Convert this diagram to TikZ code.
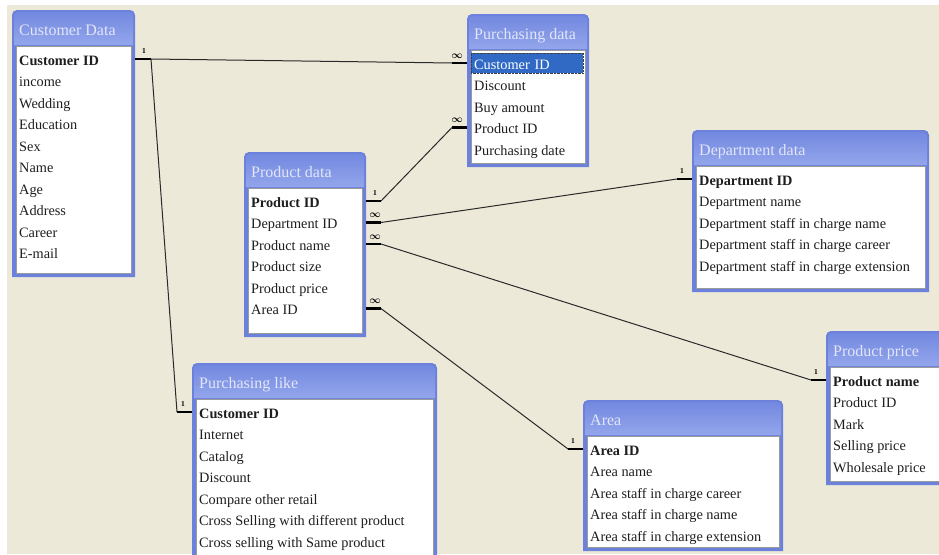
\documentclass[tikz,border=0pt]{standalone}
\usepackage{fontspec}
\setmainfont{Liberation Serif}
\usetikzlibrary{calc}

\definecolor{paper}{HTML}{ECE9D8}
\definecolor{frameblue}{HTML}{6C81DC}
\definecolor{headtop}{HTML}{7389E0}
\definecolor{headbot}{HTML}{93A5EB}
\definecolor{titlecol}{HTML}{E2E6F8}
\definecolor{fieldcol}{HTML}{1E1E1E}
\definecolor{listedge}{HTML}{9A9A9A}
\definecolor{selblue}{HTML}{316AC5}
\definecolor{linecol}{HTML}{2A2A2A}

\tikzset{
  ttl/.style={anchor=west, text=titlecol, inner sep=0pt,
    text height=12pt, text depth=2pt,
    font=\fontsize{16}{17}\selectfont},
  fld/.style={anchor=west, text=fieldcol, inner sep=0pt,
    text height=13pt, text depth=1pt,
    font=\fontsize{14.3}{15}\selectfont},
  keyfld/.style={fld, font=\fontsize{14.3}{15}\selectfont\bfseries},
  selfld/.style={fld, fill=selblue, text=white, draw=black!75, densely dotted,
    inner xsep=3pt, inner ysep=3pt, xshift=-3pt, text width=106pt},
  listbox/.style={fill=white, draw=listedge, line width=0.7pt},
  stub/.style={line width=2.8pt, draw=black},
  rel/.style={line width=1pt, draw=linecol},
  card/.style={inner sep=0pt, text=black,
    font=\fontsize{7.5}{8}\selectfont\bfseries},
  many/.style={inner sep=0pt, text=black,
    font=\fontsize{10}{10}\selectfont\boldmath},
}

% table: id, x0, y0, x1, y1, title, first-row style, first row, other rows
\newcommand\ertable[9]{%
  \fill[frameblue] (#2,#5) [rounded corners=5pt] -- (#2,#3) -- (#4,#3)
    [sharp corners] -- (#4,#5) -- cycle;
  \shade[top color=headtop, bottom color=headbot]
    (#2+2,#3+35) [rounded corners=4pt] -- (#2+2,#3+2) -- (#4-2,#3+2)
    [sharp corners] -- (#4-2,#3+35) -- cycle;
  \coordinate (#1-nw) at (#2,#3);
  \coordinate (#1-ne) at (#4,#3);
  \path[listbox] (#2+4.5,#3+36.5) rectangle (#4-4,#5-4);
  \node[ttl] (#1-t) at (#2+7,#3+20.5) {#6};
  \node[#7] (#1-1) at (#2+7,#3+49) {#8};
  \foreach \f [count=\i from 2] in {#9}
    \node[fld] (#1-\i) at (#2+7,#3+49+21.5*\i-21.5) {\f};
}

\begin{document}
\begin{tikzpicture}[x=1pt,y=-1pt]
  \useasboundingbox (0,0) rectangle (939,554);
  \clip (0,0) rectangle (939,554);
  \fill[white] (0,0) rectangle (939,554);
  \fill[paper] (7,5) rectangle (939,554);

  \ertable{cd}{12}{10}{135}{277}{Customer Data}{keyfld}{Customer ID}
    {income,Wedding,Education,Sex,Name,Age,Address,Career,E-mail}
  \ertable{pd}{467}{14}{589}{167}{Purchasing data}{selfld}{Customer ID}
    {Discount,Buy amount,Product ID,Purchasing date}
  \ertable{prod}{244}{152}{366}{337}{Product data}{keyfld}{Product ID}
    {Department ID,Product name,Product size,Product price,Area ID}
  \ertable{dept}{692}{130}{929}{292}{Department data}{keyfld}{Department ID}
    {Department name,Department staff in charge name,
     Department staff in charge career,Department staff in charge extension}
  \ertable{pl}{192}{363}{437}{575}{Purchasing like}{keyfld}{Customer ID}
    {Internet,Catalog,Discount,Compare other retail,
     Cross Selling with different product,Cross selling with Same product}
  \ertable{area}{583}{400}{783}{551}{Area}{keyfld}{Area ID}
    {Area name,Area staff in charge career,Area staff in charge name,
     Area staff in charge extension}
  \ertable{pp}{826}{331}{960}{485}{Product price}{keyfld}{Product name}
    {Product ID,Mark,Selling price,Wholesale price}

  % relationship stubs: right-hand side of a table
  \draw[stub] (cd-1 -| cd-ne) -- ++(16,0) coordinate (cdR);
  \draw[stub] (prod-1 -| prod-ne) -- ++(15,0) coordinate (prodR1);
  \draw[stub] (prod-2 -| prod-ne) -- ++(15,0) coordinate (prodR2);
  \draw[stub] (prod-3 -| prod-ne) -- ++(15,0) coordinate (prodR3);
  \draw[stub] (prod-6 -| prod-ne) -- ++(15,0) coordinate (prodR6);
  % relationship stubs: left-hand side of a table
  \draw[stub] (pd-1 -| pd-nw) -- ++(-15,0) coordinate (pdL1);
  \draw[stub] (pd-4 -| pd-nw) -- ++(-15,0) coordinate (pdL4);
  \draw[stub] (dept-1 -| dept-nw) -- ++(-15,0) coordinate (deptL);
  \draw[stub] (pl-1 -| pl-nw) -- ++(-15,0) coordinate (plL);
  \draw[stub] (area-1 -| area-nw) -- ++(-15,0) coordinate (areaL);
  \draw[stub] (pp-1 -| pp-nw) -- ++(-15,0) coordinate (ppL);

  % cardinality marks
  \node[card] at ($(cd-1 -| cd-ne)+(9,-8)$) {1};
  \node[many] at ($(pd-1 -| pd-nw)+(-10,-7)$) {$\infty$};
  \node[many] at ($(pd-4 -| pd-nw)+(-10,-7)$) {$\infty$};
  \node[card] at ($(prod-1 -| prod-ne)+(9,-8)$) {1};
  \node[many] at ($(prod-2 -| prod-ne)+(9,-7)$) {$\infty$};
  \node[many] at ($(prod-3 -| prod-ne)+(9,-7)$) {$\infty$};
  \node[many] at ($(prod-6 -| prod-ne)+(9,-7)$) {$\infty$};
  \node[card] at ($(dept-1 -| dept-nw)+(-10,-8)$) {1};
  \node[card] at ($(pl-1 -| pl-nw)+(-9,-8)$) {1};
  \node[card] at ($(area-1 -| area-nw)+(-10,-8)$) {1};
  \node[card] at ($(pp-1 -| pp-nw)+(-10,-8)$) {1};

  % relationship lines
  \draw[rel] (cdR) -- (pdL1);
  \draw[rel] (cdR) -- (plL);
  \draw[rel] (prodR1) -- (pdL4);
  \draw[rel] (prodR2) -- (deptL);
  \draw[rel] (prodR3) -- (ppL);
  \draw[rel] (prodR6) -- (areaL);
\end{tikzpicture}
\end{document}
